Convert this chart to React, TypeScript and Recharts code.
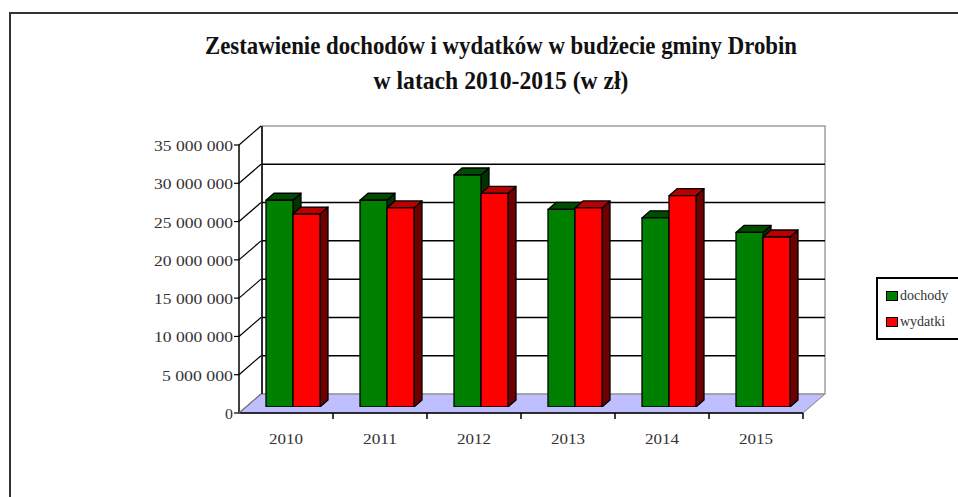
import { Bar, BarChart, Legend, ReferenceArea, ReferenceLine, XAxis, YAxis } from "recharts";

// --- data ---
const YEARS = ["2010", "2011", "2012", "2013", "2014", "2015"];
const DOCHODY = [27000000, 27000000, 30300000, 25800000, 24700000, 22800000];
const WYDATKI = [25200000, 26000000, 27900000, 26000000, 27600000, 22200000];
const Y_TICKS = [0, 5000000, 10000000, 15000000, 20000000, 25000000, 30000000, 35000000];
const GRID_VALUES = [5000000, 10000000, 15000000, 20000000, 25000000, 30000000];
const TITLE_1 = "Zestawienie dochodów i wydatków w budżecie gminy Drobin";
const TITLE_2 = "w latach 2010-2015 (w zł)";

const data = YEARS.map((year, i) => ({ year, dochody: DOCHODY[i], wydatki: WYDATKI[i] }));

// --- layout ---
const W = 958;
const H = 497;
const PL = 239; // front plot box
const PR = 803;
const PT = 145;
const PB = 413;
const DX = 22; // depth of the 3d box
const DY = 19;
const BX = 7; // columns sit a little inside the box
const BY = 6;
const BDX = 8; // depth of one column
const BDY = 7;
const Y_AXIS_W = 90;
const X_AXIS_H = 40;
const SERIF = '"Liberation Serif", "Times New Roman", serif';
const DOMAIN: [number, number] = [0, 35000000];

const fmt = (v: number) => String(v).replace(/\B(?=(\d{3})+(?!\d))/g, " ");

function hiddenMargin(dx: number, dy: number) {
  return { top: PT - dy, bottom: H - PB + dy, left: PL + dx, right: W - PR - dx };
}

function Column3D(props: any) {
  const { x, y, width, height, fill, top, side } = props;
  if (!height || height <= 0) return null;
  const r = x + width;
  const b = y + height;
  return (
    <g stroke="#000" strokeWidth={1.3} strokeLinejoin="round">
      <polygon points={`${r},${y} ${r + BDX},${y - BDY} ${r + BDX},${b - BDY} ${r},${b}`} fill={side} />
      <polygon points={`${x},${y} ${x + BDX},${y - BDY} ${r + BDX},${y - BDY} ${r},${y}`} fill={top} />
      <rect x={x} y={y} width={width} height={height} fill={fill} />
    </g>
  );
}

// an invisible series so the helper layers get a real value axis
const Ghost = () => <g />;

function YTick(props: any) {
  const { x, y, payload } = props;
  const label = fmt(payload.value);
  return (
    <g>
      <line
        x1={PL}
        y1={y}
        x2={PL + DX}
        y2={y - DY}
        stroke={payload.value === 0 ? "#707070" : "#000"}
        strokeWidth={1.2}
      />
      <text
        x={x}
        y={y}
        dy={6}
        textAnchor="end"
        fontFamily={SERIF}
        fontSize={15}
        fill="#333"
        textLength={label.length * 7.9}
        lengthAdjust="spacingAndGlyphs"
      >
        {label}
      </text>
    </g>
  );
}

function XTick(props: any) {
  const { x, y, payload } = props;
  const band = (PR - PL) / YEARS.length;
  return (
    <g>
      <line x1={x + band / 2} y1={PB} x2={x + band / 2} y2={PB + 6} stroke="#000" strokeWidth={1.5} />
      <text
        x={x}
        y={y}
        dy="0.71em"
        textAnchor="middle"
        fontFamily={SERIF}
        fontSize={15}
        fill="#333"
        textLength={34}
        lengthAdjust="spacingAndGlyphs"
      >
        {payload.value}
      </text>
    </g>
  );
}

function LegendBox(props: any) {
  const { payload } = props;
  return (
    <div
      style={{
        border: "2px solid #000",
        background: "#fff",
        padding: "4px 0 3px 8px",
        width: 110,
        fontFamily: SERIF,
        fontSize: 14,
        color: "#333",
      }}
    >
      {(payload || []).map((p: any) => (
        <div key={p.value} style={{ height: 26, display: "flex", alignItems: "center" }}>
          <span
            style={{
              display: "inline-block",
              width: 10,
              height: 8,
              background: p.color,
              border: "1.5px solid #000",
              marginRight: 2,
            }}
          />
          <span>{p.value}</span>
        </div>
      ))}
    </div>
  );
}

const layer: React.CSSProperties = { position: "absolute", left: 0, top: 0 };

export default function App() {
  return (
    <div style={{ position: "absolute", left: 0, top: 0, width: W, height: H, overflow: "hidden", background: "#fff" }}>
      <svg style={layer} width={W} height={H}>
        <rect x={10} y={13} width={W + 20} height={H + 20} fill="none" stroke="#333" strokeWidth={2} />
        <text
          x={501}
          y={54}
          textAnchor="middle"
          fontFamily={SERIF}
          fontWeight="bold"
          fontSize={26}
          fill="#111"
          textLength={592}
          lengthAdjust="spacingAndGlyphs"
        >
          {TITLE_1}
        </text>
        <text
          x={501}
          y={89}
          textAnchor="middle"
          fontFamily={SERIF}
          fontWeight="bold"
          fontSize={26}
          fill="#111"
          textLength={255}
          lengthAdjust="spacingAndGlyphs"
        >
          {TITLE_2}
        </text>
        {/* floor of the 3d box */}
        <polygon
          points={`${PL},${PB} ${PR},${PB} ${PR + DX},${PB - DY} ${PL + DX},${PB - DY}`}
          fill="#bfbfff"
          stroke="#808080"
          strokeWidth={1}
        />
      </svg>

      {/* back wall with the grid */}
      <div style={layer}>
        <BarChart width={W} height={H} data={data} margin={hiddenMargin(DX, DY)}>
          <XAxis dataKey="year" hide />
          <YAxis
            width={1}
            domain={DOMAIN}
            allowDataOverflow
            ticks={Y_TICKS}
            tick={false}
            tickLine={false}
            axisLine={{ stroke: "#000", strokeWidth: 1.5 }}
          />
          <Bar dataKey="dochody" legendType="none" isAnimationActive={false} shape={Ghost} />
          <ReferenceArea y1={0} y2={35000000} fill="none" stroke="#a0a0a0" strokeWidth={1.5} ifOverflow="visible" />
          {GRID_VALUES.map((v) => (
            <ReferenceLine key={v} y={v} stroke="#000" strokeWidth={1.5} />
          ))}
        </BarChart>
      </div>

      {/* columns */}
      <div style={layer}>
        <BarChart width={W} height={H} data={data} margin={hiddenMargin(BX, BY)} barGap={0}>
          <XAxis dataKey="year" hide />
          <YAxis hide domain={DOMAIN} allowDataOverflow ticks={Y_TICKS} />
          <Bar
            dataKey="dochody"
            name="dochody"
            fill="#008000"
            barSize={27}
            isAnimationActive={false}
            shape={(p: any) => <Column3D {...p} top="#004c00" side="#003300" />}
          />
          <Bar
            dataKey="wydatki"
            name="wydatki"
            fill="#ff0000"
            barSize={27}
            isAnimationActive={false}
            shape={(p: any) => <Column3D {...p} top="#b80000" side="#700000" />}
          />
          <Legend
            layout="vertical"
            align="center"
            verticalAlign="middle"
            wrapperStyle={{ left: 876, top: 277, width: 120 }}
            content={LegendBox}
          />
        </BarChart>
      </div>

      {/* front axes */}
      <div style={layer}>
        <BarChart
          width={W}
          height={H}
          data={data}
          margin={{ top: PT, bottom: H - PB - X_AXIS_H, left: PL - Y_AXIS_W, right: W - PR }}
        >
          <XAxis
            dataKey="year"
            height={X_AXIS_H}
            tickLine={false}
            tickMargin={14}
            axisLine={{ stroke: "#000", strokeWidth: 1.5 }}
            tick={<XTick />}
            interval={0}
          />
          <YAxis
            width={Y_AXIS_W}
            domain={DOMAIN}
            allowDataOverflow
            ticks={Y_TICKS}
            interval={0}
            tickSize={5}
            tickMargin={1}
            tickLine={{ stroke: "#000", strokeWidth: 1.2 }}
            axisLine={{ stroke: "#000", strokeWidth: 1.5 }}
            tick={<YTick />}
          />
          <Bar dataKey="dochody" legendType="none" isAnimationActive={false} shape={Ghost} />
        </BarChart>
      </div>
    </div>
  );
}
